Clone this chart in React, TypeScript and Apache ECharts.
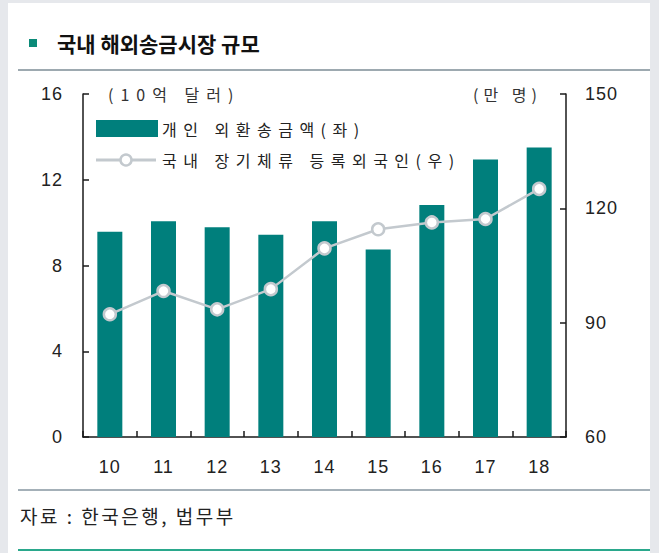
import React, { useEffect, useRef } from "react";
import * as echarts from "echarts";

const categories = ["10", "11", "12", "13", "14", "15", "16", "17", "18"];
const remittance = [9.58, 10.06, 9.78, 9.44, 10.06, 8.75, 10.82, 12.95, 13.51];
const residents = [92.2, 98.3, 93.5, 98.8, 109.5, 114.5, 116.3, 117.2, 125.1];
const titleText = "국내 해외송금시장 규모";
const sourceText = "자료 : 한국은행, 법무부";
const leftUnit = "(10억 달러)";
const rightUnit = "(만 명)";
const barName = "개인 외환송금액(좌)";
const lineName = "국내 장기체류 등록외국인(우)";

const TEAL = "#007f7c";
const GRAY = "#c3c9ce";
const NUM_FONT = "'Liberation Sans', Arial, sans-serif";
const KR = "'Noto Sans CJK KR', sans-serif";
const KR_LEGEND = "'Noto Sans CJK JP', sans-serif";
const KR_UNIT = "'Noto Sans CJK TC', sans-serif";
const KR_UNIT_R = "'Noto Sans CJK HK', 'Noto Sans CJK KR', sans-serif";
const KR_SRC = "'Noto Sans CJK SC', sans-serif";

export default function App() {
  const ref = useRef<HTMLDivElement>(null);
  useEffect(() => {
    if (!ref.current) return;
    const chart = echarts.init(ref.current, null, { renderer: "svg" });
    const axisLine = { show: true, lineStyle: { color: "#1a1a1a", width: 1.5 } };
    const axisTick = { show: true, inside: true, length: 6, lineStyle: { color: "#1a1a1a", width: 1.5 } };
    chart.setOption({
      animation: false,
      backgroundColor: "#ffffff",
      grid: { left: 83, right: 93, top: 94, bottom: 116, containLabel: false },
      xAxis: {
        type: "category",
        data: categories,
        axisLine,
        axisTick: { ...axisTick, interval: 0 },
        axisLabel: { color: "#222", fontSize: 18, fontFamily: NUM_FONT, margin: 21 },
        splitLine: { show: false },
      },
      yAxis: [
        {
          type: "value",
          min: 0,
          max: 16,
          interval: 4,
          position: "left",
          axisLine,
          axisTick,
          axisLabel: { color: "#222", fontSize: 18, fontFamily: NUM_FONT, margin: 20 },
          splitLine: { show: false },
        },
        {
          type: "value",
          min: 60,
          max: 150,
          interval: 30,
          position: "right",
          axisLine,
          axisTick,
          axisLabel: { color: "#222", fontSize: 18, fontFamily: NUM_FONT, margin: 19 },
          splitLine: { show: false },
        },
      ],
      series: [
        {
          name: barName,
          type: "bar",
          data: remittance,
          yAxisIndex: 0,
          barWidth: 25,
          itemStyle: { color: TEAL },
        },
        {
          name: lineName,
          type: "line",
          data: residents,
          yAxisIndex: 1,
          symbol: "circle",
          symbolSize: 12,
          lineStyle: { color: GRAY, width: 2.5 },
          itemStyle: { color: "#ffffff", borderColor: GRAY, borderWidth: 2.5 },
          z: 5,
        },
      ],
      graphic: [
        { type: "rect", shape: { x: 0, y: 0, width: 8, height: 553 }, style: { fill: "#e6e8ec" }, silent: true },
        { type: "rect", shape: { x: 650, y: 0, width: 9, height: 553 }, style: { fill: "#e6e8ec" }, silent: true },
        { type: "rect", shape: { x: 0, y: 0, width: 659, height: 3 }, style: { fill: "#e6e8ec" }, silent: true },
        { type: "rect", shape: { x: 29, y: 39, width: 8, height: 8 }, style: { fill: "#0b8a78" } },
        {
          type: "text",
          x: 57,
          y: 43,
          style: { text: titleText, fontSize: 21, fontWeight: "bold", fontFamily: KR, fill: "#111", textVerticalAlign: "middle", textAlign: "left" },
        },
        { type: "line", shape: { x1: 18, y1: 70, x2: 650, y2: 70 }, style: { stroke: "#7d8c96", lineWidth: 1.5 } },
        {
          type: "text",
          x: 108,
          y: 94,
          style: { text: leftUnit, fontSize: 16, fontFamily: KR_UNIT, fill: "#333", textVerticalAlign: "middle", textAlign: "left" },
        },
        {
          type: "text",
          x: 473,
          y: 94,
          style: { text: rightUnit, fontSize: 16, fontFamily: KR_UNIT_R, fill: "#333", textVerticalAlign: "middle", textAlign: "left" },
        },
        { type: "rect", shape: { x: 96, y: 120, width: 62, height: 17 }, style: { fill: TEAL } },
        {
          type: "text",
          x: 162,
          y: 128.5,
          style: { text: barName, fontSize: 16, fontFamily: KR_LEGEND, fill: "#222", textVerticalAlign: "middle", textAlign: "left" },
        },
        { type: "line", shape: { x1: 96, y1: 160, x2: 156, y2: 160 }, style: { stroke: GRAY, lineWidth: 3 } },
        { type: "circle", shape: { cx: 126, cy: 160, r: 5.5 }, style: { fill: "#ffffff", stroke: GRAY, lineWidth: 2.5 } },
        {
          type: "text",
          x: 162,
          y: 160,
          style: { text: lineName, fontSize: 16, fontFamily: KR_LEGEND, fill: "#222", textVerticalAlign: "middle", textAlign: "left" },
        },
        { type: "line", shape: { x1: 18, y1: 490, x2: 650, y2: 490 }, style: { stroke: "#8696a0", lineWidth: 1.5 } },
        {
          type: "text",
          x: 20,
          y: 515,
          style: { text: sourceText, fontSize: 19, fontFamily: KR_SRC, fill: "#222", textVerticalAlign: "middle", textAlign: "left" },
        },
        { type: "line", shape: { x1: 18, y1: 550, x2: 650, y2: 550 }, style: { stroke: "#2aa88c", lineWidth: 2 } },
      ],
    });
    return () => chart.dispose();
  }, []);
  return (
    <div id="chartbox" style={{ position: "absolute", left: 0, top: 0 }}>
      <style>{`
        #chartbox text[style*="CJK JP"] { letter-spacing: 6.5px; }
        #chartbox text[style*="CJK TC"] { letter-spacing: 7px; }
        #chartbox text[style*="CJK HK"] { letter-spacing: 5px; }
        #chartbox text[style*="CJK SC"] { letter-spacing: 2.5px; }
        #chartbox text[style*="Liberation"] { letter-spacing: 1px; }
      `}</style>
      <div ref={ref} style={{ width: 659, height: 553 }} />
    </div>
  );
}
